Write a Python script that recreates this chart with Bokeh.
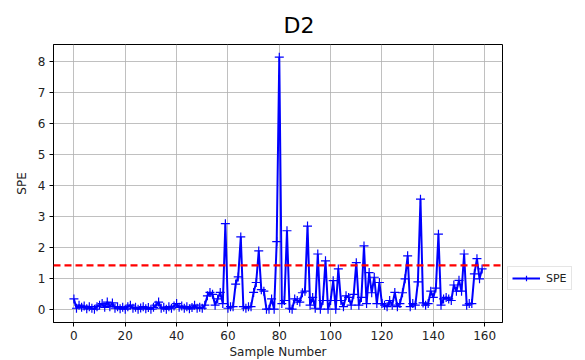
from bokeh.plotting import figure
from bokeh.models import Span, Legend, LegendItem, FixedTicker, Range1d, Title
from bokeh.embed import file_html
from bokeh.resources import INLINE

spe = [
    0.35, 0.05, 0.15, 0.08, 0.12, 0.03, 0.10, 0.05, 0.02, 0.10,
    0.15, 0.20, 0.08, 0.25, 0.10, 0.22, 0.05, 0.10, 0.03, 0.08,
    0.02, 0.10, 0.15, 0.05, 0.08, 0.02, 0.06, 0.10, 0.03, 0.07,
    0.02, 0.08, 0.15, 0.25, 0.05, 0.08, 0.02, 0.10, 0.05, 0.12,
    0.20, 0.08, 0.12, 0.05, 0.10, 0.03, 0.07, 0.15, 0.05, 0.08,
    0.05, 0.15, 0.45, 0.56, 0.50, 0.15, 0.35, 0.56, 0.20, 2.78,
    0.05, 0.10, 0.10, 0.83, 1.06, 2.35, 0.10, 0.05, 0.10, 0.10,
    0.56, 0.88, 1.90, 0.65, 0.60, 0.02, 0.02, 0.35, 0.02, 2.20,
    8.15, 0.20, 0.30, 2.55, 0.05, 0.02, 0.35, 0.30, 0.25, 0.55,
    0.60, 2.70, 0.15, 0.40, 0.05, 1.80, 0.02, 0.30, 1.58, 0.02,
    0.30, 0.94, 0.02, 1.32, 0.30, 0.10, 0.45, 0.40, 0.15, 0.50,
    1.52, 0.15, 0.40, 2.06, 0.20, 1.20, 0.55, 1.05, 0.20, 0.88,
    0.20, 0.15, 0.10, 0.30, 0.15, 0.56, 0.10, 0.20, 0.55, 1.00,
    1.74, 0.10, 0.20, 0.15, 0.90, 3.57, 0.22, 0.15, 0.20, 0.60,
    0.40, 0.70, 2.44, 0.15, 0.35, 0.40, 0.35, 0.30, 0.80, 0.60,
    0.95, 0.60, 1.80, 0.15, 0.20, 0.20, 1.16, 1.65, 1.00, 1.32,
]
samples = list(range(len(spe)))
threshold = 1.43
x_ticks = [0, 20, 40, 60, 80, 100, 120, 140, 160]
y_ticks = [0, 1, 2, 3, 4, 5, 6, 7, 8]

FONT = "DejaVu Sans"

p = figure(frame_width=449, frame_height=278, output_backend="svg", toolbar_location=None,
           x_range=Range1d(-7.95, 166.95), y_range=Range1d(-0.41, 8.56),
           min_border_left=53, min_border_right=0, min_border_top=44, min_border_bottom=38)

p.title = Title(text="D2", align="left", offset=230, text_font=FONT,
                text_font_size="22px", text_font_style="normal", text_color="black",
                standoff=14)

p.outline_line_color = "black"
p.outline_line_width = 1
p.outline_line_alpha = 1

for ax in (p.xaxis[0], p.yaxis[0]):
    ax.major_label_text_font = FONT
    ax.major_label_text_font_size = "12px"
    ax.major_label_text_color = "#222222"
    ax.axis_label_text_font = FONT
    ax.axis_label_text_font_size = "12px"
    ax.axis_label_text_font_style = "normal"
    ax.axis_label_text_color = "#222222"
    ax.major_tick_out = 4
    ax.major_tick_in = 0
    ax.minor_tick_line_color = None
    ax.axis_line_color = "black"
    ax.major_tick_line_color = "black"

p.xaxis.ticker = FixedTicker(ticks=x_ticks)
p.yaxis.ticker = FixedTicker(ticks=y_ticks)
p.xaxis.axis_label = "Sample Number"
p.yaxis.axis_label = "SPE"
p.xaxis.axis_label_standoff = 2
p.yaxis.axis_label_standoff = 6
p.xaxis.major_label_standoff = 4
p.yaxis.major_label_standoff = 4

p.grid.grid_line_color = "#b0b0b0"
p.grid.grid_line_width = 0.8
p.grid.grid_line_alpha = 1

thr = Span(location=threshold, dimension="width", line_color="red",
           line_width=2.2, line_dash="7 4")
p.add_layout(thr)

ln = p.line(samples, spe, line_color="blue", line_width=2)
mk = p.scatter(samples, spe, marker="cross", size=9, line_color="blue", line_width=1.2)

legend = Legend(items=[LegendItem(label="SPE", renderers=[ln, mk])],
                location=(5, 32), label_text_font=FONT, label_text_font_size="11px",
                label_text_color="#222222", border_line_color="#cccccc",
                border_line_width=1, background_fill_color="white",
                glyph_width=28, glyph_height=14, label_standoff=6,
                padding=4, spacing=0, margin=0)
p.add_layout(legend, "right")

open("out.html", "w").write(file_html(p, INLINE))
